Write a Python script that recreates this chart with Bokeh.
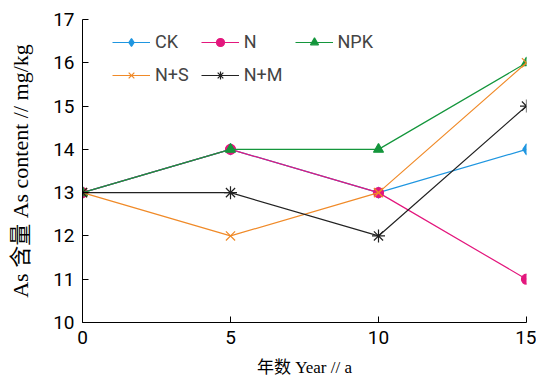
from bokeh.plotting import figure
from bokeh.models import Legend, LegendItem, FixedTicker, Range1d
from bokeh.embed import file_html
from bokeh.resources import INLINE

years = [0, 5, 10, 15]
ck = [13, 14, 13, 14]
n = [13, 14, 13, 11]
npk = [13, 14, 14, 16]
ns = [13, 12, 13, 16]
nm = [13, 13, 12, 15]
x_ticks = [0, 5, 10, 15]
y_ticks = [10, 11, 12, 13, 14, 15, 16, 17]

TICK_FONT = "Roboto"

p = figure(width=536, height=381, output_backend="svg", toolbar_location=None,
           x_range=Range1d(0, 15), y_range=Range1d(10, 17),
           min_border_left=82, min_border_right=10, min_border_top=19, min_border_bottom=59)
p.outline_line_color = None
p.grid.visible = False

series = [
    ("CK", ck, "#1f96e0", "diamond", 11),
    ("N", n, "#e3177d", "circle", 10),
    ("NPK", npk, "#14963c", "triangle", 10),
    ("N+S", ns, "#f08a28", "x", 13),
    ("N+M", nm, "#222222", "asterisk", 13),
]
items = []
for name, vals, col, marker, sz in series:
    r1 = p.line(years, vals, line_color=col, line_width=1.2)
    r2 = p.scatter(years, vals, marker=marker, size=sz, fill_color=col, line_color=col, line_width=1.2)
    items.append(LegendItem(label=name, renderers=[r1, r2]))

leg = Legend(items=items, orientation="horizontal", ncols=3, border_line_color=None,
             background_fill_alpha=0, glyph_width=38, glyph_height=20,
             label_text_font=TICK_FONT, label_text_font_size="18px",
             spacing=12, margin=0, padding=0, label_standoff=5)
leg.location = (30, 237)
p.add_layout(leg)

for ax in (p.xaxis[0], p.yaxis[0]):
    ax.major_tick_in = 6
    ax.major_tick_out = 0
    ax.minor_tick_in = 0
    ax.minor_tick_out = 0
    ax.axis_line_color = "black"
    ax.major_tick_line_color = "black"
    ax.major_label_text_font = TICK_FONT
    ax.major_label_text_font_size = "19px"
    ax.major_label_text_color = "black"
    ax.axis_label_text_font_style = "normal"
    ax.axis_label_text_color = "black"

p.xaxis.ticker = FixedTicker(ticks=x_ticks)
p.yaxis.ticker = FixedTicker(ticks=y_ticks)
p.xaxis.major_label_standoff = 8
p.yaxis.major_label_standoff = 8

p.xaxis.axis_label = "年数 Year // a"
p.xaxis.axis_label_text_font = "Liberation Serif, Noto Sans CJK SC"
p.xaxis.axis_label_text_font_size = "17px"
p.xaxis.axis_label_standoff = 11
p.yaxis.axis_label = "As 含量 As content // mg/kg"
p.yaxis.axis_label_text_font = "Liberation Serif, Noto Sans CJK SC"
p.yaxis.axis_label_text_font_size = "22px"
p.yaxis.axis_label_standoff = 17

open("out.html", "w").write(file_html(p, INLINE))
